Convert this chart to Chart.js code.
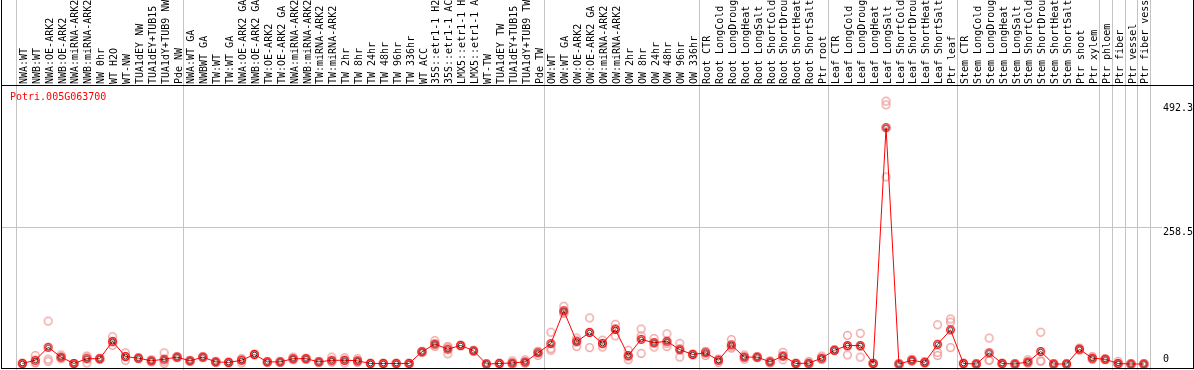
<!DOCTYPE html>
<html><head><meta charset="utf-8">
<script src="https://cdn.jsdelivr.net/npm/chart.js@4/dist/chart.umd.min.js"></script>
<style>html,body{margin:0;padding:0;background:#fff;overflow:hidden}#wrap{width:1194px;height:370px;position:relative}</style>
</head><body><div id="wrap"><canvas id="c" width="1194" height="370"></canvas></div>
<script>
const geneName = "Potri.005G063700";
const categories = [
 "NWA:WT","NWB:WT","NWA:OE-ARK2","NWB:OE-ARK2","NWA:miRNA-ARK2","NWB:miRNA-ARK2","NW 0hr","WT H2O","WT-NW","TUA1dEY NW","TUA1dEY+TUB15","TUA1dY+TUB9 NW","Pde NW",
 "NWA:WT GA","NWBWT GA","TW:WT","TW:WT GA","NWA:OE-ARK2 GA","NWB:OE-ARK2 GA","TW:OE-ARK2","TW:OE-ARK2 GA","NWA:miRNA-ARK2","NWB:miRNA-ARK2","TW:miRNA-ARK2","TW:miRNA-ARK2",
 "TW 2hr","TW 8hr","TW 24hr","TW 48hr","TW 96hr","TW 336hr","WT ACC","35S::etr1-1 H2","35S::etr1-1 AC","LMX5::etr1-1 H","LMX5::etr1-1 A","WT-TW","TUA1dEY TW","TUA1dEY+TUB15","TUA1dY+TUB9 TW","Pde TW",
 "OW:WT","OW:WT GA","OW:OE-ARK2","OW:OE-ARK2 GA","OW:miRNA-ARK2","OW:miRNA-ARK2","OW 2hr","OW 8hr","OW 24hr","OW 48hr","OW 96hr","OW 336hr",
 "Root CTR","Root LongCold","Root LongDroug","Root LongHeat","Root LongSalt","Root ShortCold","Root ShortDrou","Root ShortHeat","Root ShortSalt","Ptr root",
 "Leaf CTR","Leaf LongCold","Leaf LongDroug","Leaf LongHeat","Leaf LongSalt","Leaf ShortCold","Leaf ShortDrou","Leaf ShortHeat","Leaf ShortSalt","Ptr leaf",
 "Stem CTR","Stem LongCold","Stem LongDroug","Stem LongHeat","Stem LongSalt","Stem ShortCold","Stem ShortDrou","Stem ShortHeat","Stem ShortSalt","Ptr shoot","Ptr xylem",
 "Ptr phloem","Ptr fiber","Ptr vessel","Ptr fiber vess"
];
const means = [
 1,7,31.6,13,1,10,10,42.8,14,11,6,9,13,
 6,13,4,3,7,18,4,4,10,10,4,7,
 7,6,1,1,1,1,23,37.8,28,35,25,0,1,2,4,21,
 38.5,100.4,42,59.5,39,65,16,46.5,40,43,27,18,
 21,7,36,13,13,4,15,1,1.5,11,
 26,34.8,34.8,1,446,0,7,3,37.2,64.5,
 1,0,21,1,0,4,23.6,0,0,28,11,
 9,1,0,0
];
const replicates = [
 [0,1,2],[16,3,2],[81,9,5],[17,10,12],[1,1,1],[13,2,15],[10,9,11],[51.5,35.3,41.6],[21,7,14],[11,10,12],[8,4,6],[21,1,5],[13,12,14],
 [7,5,6],[14,12,13],[4,3,5],[3,2,4],[10,2,9],[19,17,18],[4,3,5],[4,3,5],[13,8,9],[11,9,10],[5,3,4],[13,4,4],
 [12,2,7],[10,3,5],[1,0,2],[1,0,2],[1,0,2],[1,0,2],[24,22,23],[44,33,36],[33,19,32],[36,34,35],[26,24,25],[0,0,0],[1,0,2],[6,0,0],[8,2,2],[16,24,23],
 [60,26,29],[109,96,96],[49,33,44],[87,31,60],[45,32,38],[75,53,67],[26,8,14],[66,20,53],[48,32,40],[57,33,39],[39,13,29],[18,17,19],
 [24,16,23],[9,3,9],[46,30,32],[17,9,13],[13,12,14],[6,2,4],[22,8,15],[1,0,2],[5,0,0],[15,9,9],
 [27,25,26],[54,17,33],[58,13,33],[1,0,2],[496,489,353],[0,0,0],[9,5,7],[5,2,2],[74,22,16],[85,79,31],
 [1,0,2],[0,0,0],[49,7,7],[1,0,2],[0,0,0],[8,2,2],[60,5,6],[0,0,0],[0,0,0],[30,26,28],[14,9,10],
 [9,8,10],[5,0,0],[0,0,0],[0,0,0]
];
const groupBoundaries = [0,13,41,53,63,73,84,85,86,87,88];
const yTickValues = [0, 258.5, 492.3];
const yTickLabels = ["0", "258.5", "492.3"];
const yAxisMax = 517;
const midGridValue = 258.5;

function makeMarker(ring, inner) {
  const s = 11, c = document.createElement('canvas');
  c.width = s; c.height = s;
  const g = c.getContext('2d');
  g.strokeStyle = ring; g.lineWidth = 1.3;
  g.beginPath(); g.arc(5.5, 5.5, 3.8, 0, Math.PI * 2); g.stroke();
  if (inner) { g.strokeStyle = inner; g.lineWidth = 0.8; g.beginPath(); g.arc(5.5, 5.5, 2.4, 0, Math.PI * 2); g.stroke(); }
  return c;
}
const meanMarker = makeMarker('#ff0000', '#000000');
const repMarker = makeMarker('#ee9a9a', null);

const meanPoints = means.map((v, i) => ({ x: i + 0.5, y: v }));
const repPoints = [];
replicates.forEach((arr, i) => arr.forEach(v => repPoints.push({ x: i + 0.5, y: v })));

const FONT = '10px "DejaVu Sans Mono", "Liberation Mono", monospace';

const decor = {
  id: 'decor',
  beforeDraw(chart) {
    const ctx = chart.ctx;
    ctx.save();
    ctx.fillStyle = '#ffffff';
    ctx.fillRect(0, 0, chart.width, chart.height);
    ctx.restore();
  },
  beforeDatasetsDraw(chart) {
    const ctx = chart.ctx, xs = chart.scales.x, ys = chart.scales.y;
    ctx.save();
    ctx.fillStyle = '#c4c4c4';
    groupBoundaries.forEach(b => {
      const px = Math.round(xs.getPixelForValue(b));
      ctx.fillRect(px, 0, 1, chart.height);
    });
    const gy = Math.round(ys.getPixelForValue(midGridValue));
    ctx.fillRect(1, gy, 1161, 1);
    ctx.restore();
  },
  afterDatasetsDraw(chart) {
    const ctx = chart.ctx, xs = chart.scales.x, ys = chart.scales.y;
    ctx.save();
    ctx.fillStyle = '#000000';
    ctx.fillRect(1, 0, 1, 369);
    ctx.fillRect(1193, 0, 1, 369);
    ctx.fillRect(1, 85, 1193, 1);
    ctx.fillRect(1, 368, 1193, 1);
    ctx.font = FONT;
    ctx.textAlign = 'left';
    ctx.textBaseline = 'alphabetic';
    categories.forEach((lab, i) => {
      const bx = xs.getPixelForValue(i) + 11;
      ctx.save();
      ctx.translate(bx, 84);
      ctx.rotate(-Math.PI / 2);
      ctx.fillText(lab, 0, 0);
      ctx.restore();
    });
    ctx.fillStyle = '#ff0000';
    ctx.fillText(geneName, 10, 100);
    ctx.fillStyle = '#000000';
    yTickValues.forEach((v, k) => {
      const py = ys.getPixelForValue(v);
      const base = v === 0 ? py - 2 : py + 8;
      ctx.fillText(yTickLabels[k], 1163, base);
    });
    ctx.restore();
  }
};

new Chart(document.getElementById('c'), {
  type: 'scatter',
  data: {
    datasets: [
      { data: meanPoints, showLine: true, borderColor: '#ff0000', borderWidth: 1, pointStyle: meanMarker, pointRadius: 5, tension: 0, clip: false },
      { data: repPoints, showLine: false, pointStyle: repMarker, pointRadius: 5, clip: false }
    ]
  },
  options: {
    responsive: false,
    animation: false,
    devicePixelRatio: 1,
    layout: { padding: { top: 90, bottom: 2, left: 1, right: 1 } },
    plugins: { legend: { display: false }, tooltip: { enabled: false } },
    scales: {
      x: { type: 'linear', display: false, min: -10 / 13, max: 1182 / 13 },
      y: { type: 'linear', display: false, min: 0, max: yAxisMax }
    }
  },
  plugins: [decor]
});
</script>
</body></html>
